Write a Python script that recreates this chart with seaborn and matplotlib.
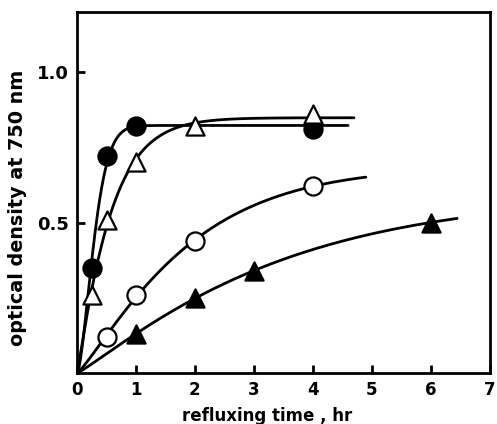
import numpy as np
import pandas as pd
import matplotlib
matplotlib.use("Agg")
import matplotlib.pyplot as plt
import seaborn as sns

# data
fc_x = [0.25, 0.5, 1, 4]
fc_y = [0.35, 0.72, 0.82, 0.81]
ot_x = [0.25, 0.5, 1, 2, 4]
ot_y = [0.26, 0.51, 0.70, 0.82, 0.86]
oc_x = [0.5, 1, 2, 4]
oc_y = [0.12, 0.26, 0.44, 0.62]
ft_x = [1, 2, 3, 6]
ft_y = [0.13, 0.25, 0.34, 0.50]
curve_end = {"fc": 4.6, "ot": 4.7, "oc": 4.9, "ft": 6.45}

x_ticks = [0, 1, 2, 3, 4, 5, 6, 7]
y_ticks = [0.5, 1.0]
y_tick_labels = ["0.5", "1.0"]

sns.set_style("ticks")
plt.rcParams['font.family'] = ['DejaVu Sans']
plt.rcParams['text.color'] = 'black'
plt.rcParams['axes.labelcolor'] = 'black'
plt.rcParams['xtick.color'] = 'black'
plt.rcParams['ytick.color'] = 'black'

fig = plt.figure(figsize=(4.97, 4.24), dpi=100)
ax = fig.add_axes([0.155, 0.120, 0.830, 0.852])


def fit_curve(xs, ys):
    """least-squares fit of y = A(1 - exp(-k x^n)) through the origin"""
    xs = np.asarray(xs, float)
    ys = np.asarray(ys, float)
    best = None
    for n in np.linspace(0.8, 1.6, 41):
        for k in np.linspace(0.05, 8, 800):
            g = 1 - np.exp(-k * xs ** n)
            A = (g @ ys) / (g @ g)
            err = np.sum((A * g - ys) ** 2)
            if best is None or err < best[0]:
                best = (err, A, k, n)
    return best[1], best[2], best[3]


series = [
    ("fc", fc_x, fc_y, "o", "black"),
    ("ot", ot_x, ot_y, "^", "white"),
    ("oc", oc_x, oc_y, "o", "white"),
    ("ft", ft_x, ft_y, "^", "black"),
]

for key, xs, ys, mk, fcol in series:
    A, k, n = fit_curve(xs, ys)
    xx = np.linspace(0, curve_end[key], 300)
    df = pd.DataFrame({"x": xx, "y": A * (1 - np.exp(-k * xx ** n))})
    sns.lineplot(data=df, x="x", y="y", ax=ax, color="black", lw=2.0, zorder=2)

for key, xs, ys, mk, fcol in series:
    pts = pd.DataFrame({"x": xs, "y": ys})
    sns.scatterplot(data=pts, x="x", y="y", ax=ax, marker=mk, s=170,
                    facecolor=fcol, edgecolor="black", linewidth=1.6,
                    zorder=3, clip_on=False)

ax.set_xlim(0, 7)
ax.set_ylim(0, 1.2)
ax.set_xticks(x_ticks)
ax.set_xticklabels([str(t) for t in x_ticks], fontweight="bold")
ax.set_yticks(y_ticks)
ax.set_yticklabels(y_tick_labels, fontweight="bold")
ax.tick_params(direction="in", length=6, width=2)
ax.tick_params(axis="x", labelsize=12, pad=6)
ax.tick_params(axis="y", labelsize=13, pad=6)
for s in ax.spines.values():
    s.set_visible(True)
    s.set_linewidth(2)
    s.set_color("black")

ax.set_xlabel("refluxing time , hr", fontsize=12, fontweight="bold")
ax.set_ylabel("optical density at 750 nm", fontsize=13.8, fontweight="bold")
ax.xaxis.set_label_coords(0.46, -0.094)
ax.yaxis.set_label_coords(-0.121, 0.457)

fig.savefig("out.png", dpi=100)
